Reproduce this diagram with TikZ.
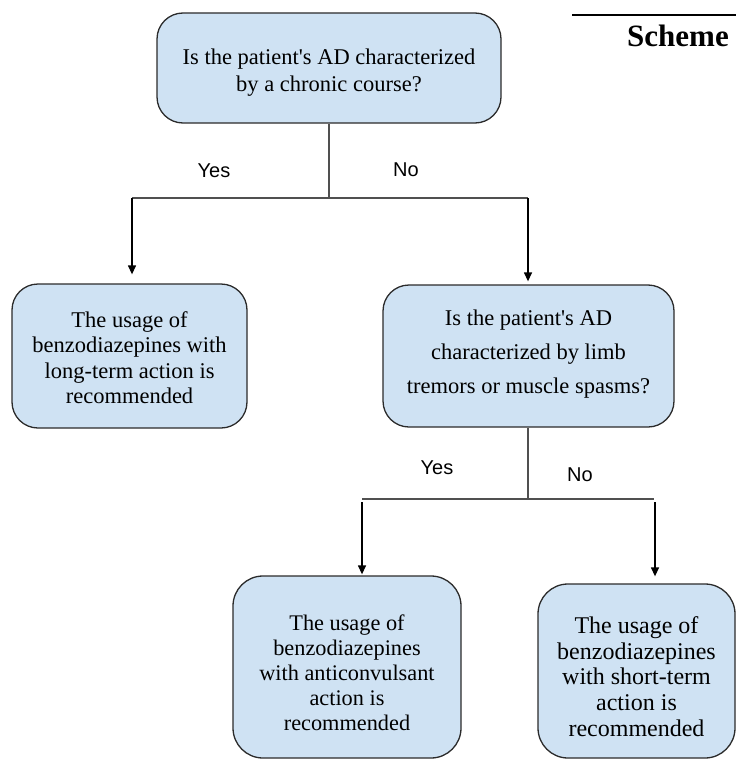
\documentclass[tikz,border=0pt]{standalone}
\usepackage{fontspec}
\setmainfont{Liberation Serif}
\newfontfamily\sansf{Liberation Sans}
\usetikzlibrary{arrows.meta}
\definecolor{boxfill}{HTML}{CFE2F3}
\definecolor{boxline}{HTML}{2B2B2B}
\definecolor{stem}{HTML}{505050}
\tikzset{
  box/.style={draw=boxline, line width=1.3pt, fill=boxfill, rounded corners=26pt,
    inner sep=0pt},
  txt/.style={align=center, inner sep=0pt, font=\fontsize{22.5}{25.5}\selectfont},
  lbl/.style={font=\sansf\fontsize{20}{24}\selectfont, inner sep=0pt},
  link/.style={draw=stem, line width=1.3pt},
  arr/.style={draw=black, line width=1.3pt, -{Triangle[length=9pt,width=8pt]}}
}
\begin{document}
\begin{tikzpicture}[x=1pt,y=-1pt]
\useasboundingbox (0,0) rectangle (736,760);
% boxes
\node[box, minimum width=344pt, minimum height=110pt] (b1) at (329,68) {};
\node[txt, font=\fontsize{22.5}{27}\selectfont] (t1) at (329,72.5)
  {Is the patient\textquotesingle s AD characterized\\by a chronic course?};
\node[box, minimum width=235pt, minimum height=144pt] (b2) at (129.5,356) {};
\node[txt] (t2) at (129.5,357.5)
  {The usage of\\benzodiazepines with\\long-term action is\\recommended};
\node[box, minimum width=291pt, minimum height=142pt] (b3) at (528.5,356) {};
\node[txt, font=\fontsize{22.5}{34}\selectfont] (t3) at (528.5,354)
  {Is the patient\textquotesingle s AD\\characterized by limb\\tremors or muscle spasms?};
\node[box, minimum width=228pt, minimum height=182pt, rounded corners=30pt] (b4) at (347,667) {};
\node[txt, font=\fontsize{22.3}{25}\selectfont] (t4) at (347,673)
  {The usage of\\benzodiazepines\\with anticonvulsant\\action is\\recommended};
\node[box, minimum width=197pt, minimum height=174pt, rounded corners=30pt] (b5) at (636.5,671) {};
\node[txt, font=\fontsize{24}{25.8}\selectfont] (t5) at (636.5,676.5)
  {The usage of\\benzodiazepines\\with short-term\\action is\\recommended};
% upper branch
\coordinate (j1) at (329,198);
\coordinate (l1) at (132,198);
\coordinate (r1) at (528,198);
\draw[link] (b1.south -| j1) -- (j1);
\draw[link] (l1) -- (r1);
\draw[arr, shorten >=9pt] (l1) -- (l1 |- b2.north);
\draw[arr, shorten >=3pt] (r1) -- (r1 |- b3.north);
\node[lbl] (y1) at (214,171) {Yes};
\node[lbl] (n1) at (406,170) {No};
% lower branch
\coordinate (j2) at (528,499);
\coordinate (l2) at (362,499);
\coordinate (r2) at (654,499);
\coordinate (l2s) at (362,502);
\coordinate (r2s) at (655,502);
\draw[link] (b3.south -| j2) -- (j2);
\draw[link] (l2) -- (r2);
\draw[arr, shorten >=1pt] (l2s) -- (l2s |- b4.north);
\draw[arr, shorten >=7pt] (r2s) -- (r2s |- b5.north);
\node[lbl] (y2) at (437,468) {Yes};
\node[lbl] (n2) at (580,475) {No};
% scheme header
\coordinate (h1) at (572,15);
\coordinate (h2) at (736,15);
\draw[line width=1.6pt] (h1) -- (h2);
\node[anchor=base west, inner sep=0pt, font=\bfseries\fontsize{31}{36}\selectfont] (sch) at (627,47) {Scheme};
\end{tikzpicture}
\end{document}
